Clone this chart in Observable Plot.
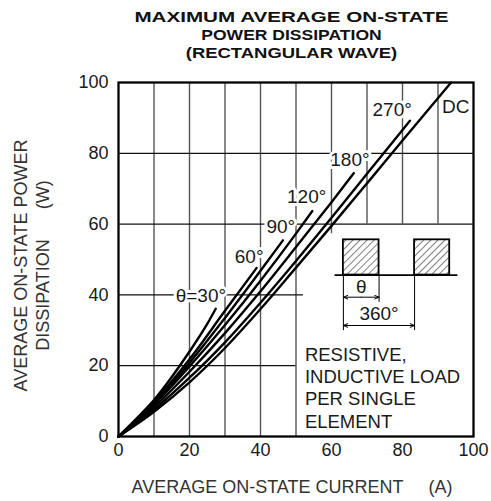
<!DOCTYPE html>
<html><head><meta charset="utf-8">
<script src="https://cdn.jsdelivr.net/npm/d3@7"></script>
<script src="https://cdn.jsdelivr.net/npm/@observablehq/plot@0.6"></script>
<style>
html,body{margin:0;padding:0;background:#fff;overflow:hidden;}
#title{height:62px;box-sizing:border-box;padding-top:8px;font:bold 15.5px "Liberation Sans",Arial,sans-serif;line-height:18px;color:#111;}
#title div{width:491px;text-align:center;position:relative;left:46px;white-space:nowrap;}
#t1{transform:scaleX(1.33);} #t2{transform:scaleX(1.13);} #t3{transform:scaleX(1.19);}
svg{display:block;}
</style>
</head><body>
<div id="title"><div id="t1">MAXIMUM AVERAGE ON-STATE</div><div id="t2">POWER DISSIPATION</div><div id="t3">(RECTANGULAR WAVE)</div></div>
<div id="chart"></div>
<script>
// ---- data ----
const seriesNames = ["30°", "60°", "90°", "120°", "180°", "270°", "DC"];
const current30 = [0, 5, 10, 15, 20, 25, 27.4];
const power30   = [0, 5, 10.3, 16.8, 24, 31.8, 36.1];
const current60 = [0, 10, 20, 30, 38.9];
const power60   = [0, 9.8, 21.8, 35.5, 47.6];
const current90 = [0, 10, 20, 30, 40, 46.3];
const power90   = [0, 9.4, 20.8, 33.5, 46.8, 55.4];
const current120 = [0, 10, 20, 30, 40, 50, 54.6];
const power120   = [0, 9, 19.8, 31.5, 44, 57.3, 63.7];
const current180 = [0, 10, 20, 30, 40, 50, 60, 66.3];
const power180   = [0, 8.3, 18.3, 29.2, 41, 53.5, 66.2, 74.4];
const current270 = [0, 10, 20, 30, 40, 50, 60, 70, 80, 82.1];
const power270   = [0, 7.6, 16.6, 26.6, 37.8, 49.6, 61.8, 74.2, 86.6, 89.2];
const currentDC = [0, 10, 20, 30, 40, 50, 60, 70, 80, 93.7];
const powerDC   = [0, 7, 15.3, 25, 36, 47.7, 59.5, 71.5, 83.6, 100];

const tickValues = [0, 20, 40, 60, 80, 100];

const curveLabels = ["θ=30°", "60°", "90°", "120°", "180°", "270°", "DC"];
const curveLabelX = [23.2, 36.8, 45.7, 53, 65.2, 77.1, 95];
const curveLabelY = [39.8, 50.6, 59.1, 67.6, 78.2, 92.3, 93.2];

const gridVx = [10, 20, 30, 40, 50, 60, 70, 80, 90];
const gridVfrom = [0, 0, 0, 0, 0, 57.3, 60, 60, 60];
const gridHy = [20, 40, 60, 80];
const gridHto = [50, 52.1, 100, 100];

// inset waveform (data units)
const pulseStart = [63.35, 83.4];
const pulseEnd = [73.4, 93.3];
const pulseLow = 45.6, pulseHigh = 55.56;
const baseFrom = 61, baseTo = 95.6;
const extX = [63.35, 73.4, 83.4];
const extBottom = [29.9, 37.9, 29.9];
const thetaY = 39.35, periodY = 31.36;
const insetLabels = ["θ", "360°"];
const insetLabelX = [68.4, 73.4];
const insetLabelY = [42.2, 34.5];

const noteText = "RESISTIVE,\nINDUCTIVE LOAD\nPER SINGLE\nELEMENT";
const noteX = 52.5, noteY = 13.9;

// ---- build tables ----
const allCurrents = [current30, current60, current90, current120, current180, current270, currentDC];
const allPowers = [power30, power60, power90, power120, power180, power270, powerDC];
const rows = [];
seriesNames.forEach((s, k) => allCurrents[k].forEach((c, i) => rows.push({series: s, current: c, power: allPowers[k][i]})));
const labelRows = curveLabels.map((t, i) => ({t, x: curveLabelX[i], y: curveLabelY[i]}));
const gridV = gridVx.map((x, i) => ({x, y1: gridVfrom[i], y2: 100}));
const gridH = gridHy.map((y, i) => ({y, x1: 0, x2: gridHto[i]}));
const pulses = pulseStart.map((x1, i) => ({x1, x2: pulseEnd[i], y1: pulseLow, y2: pulseHigh}));
const exts = extX.map((x, i) => ({x, y1: pulseLow, y2: extBottom[i]}));
const midT = (extX[0] + extX[1]) / 2, midP = (extX[0] + extX[2]) / 2;
const arrows = [
  {x1: midT, x2: extX[0], y: thetaY}, {x1: midT, x2: extX[1], y: thetaY},
  {x1: midP, x2: extX[0], y: periodY}, {x1: midP, x2: extX[2], y: periodY}
];
const insetText = insetLabels.map((t, i) => ({t, x: insetLabelX[i], y: insetLabelY[i]}));

const font = "Liberation Sans, Arial, Helvetica, sans-serif";
const NB = "\u00a0";

const plot = Plot.plot({
  width: 491, height: 439,
  marginLeft: 118, marginRight: 18, marginTop: 20, marginBottom: 65,
  x: {domain: [0, 100]},
  y: {domain: [0, 100]},
  style: {fontFamily: font, fontSize: "18px", color: "#1a1a1a", background: "white", overflow: "visible"},
  marks: [
    Plot.ruleX(gridV, {x: "x", y1: "y1", y2: "y2", stroke: "#555", strokeWidth: 1.4}),
    Plot.ruleY(gridH, {y: "y", x1: "x1", x2: "x2", stroke: "#111", strokeWidth: 1.3}),
    Plot.axisX({ticks: tickValues, tickSize: 0, tickPadding: 7, label: null, fontSize: 18, fill: "#1a1a1a"}),
    Plot.axisY({ticks: tickValues, tickSize: 0, tickPadding: 10, label: null, fontSize: 18, fill: "#1a1a1a"}),
    Plot.text(labelRows, {x: "x", y: "y", text: "t", fontSize: 19, fill: "#1a1a1a", stroke: "white", strokeWidth: 6}),
    Plot.line(rows, {x: "current", y: "power", z: "series", curve: "monotone-x", stroke: "black", strokeWidth: 2.4}),
    // inset waveform
    Plot.rect(pulses, {x1: "x1", x2: "x2", y1: "y1", y2: "y2", fill: "none", stroke: "black", strokeWidth: 1.8}),
    Plot.ruleY([pulseLow], {x1: baseFrom, x2: baseTo, stroke: "black", strokeWidth: 1.6}),
    Plot.ruleX(exts, {x: "x", y1: "y1", y2: "y2", stroke: "black", strokeWidth: 1}),
    Plot.arrow(arrows, {x1: "x1", x2: "x2", y1: "y", y2: "y", stroke: "black", strokeWidth: 1, headLength: 7, headAngle: 45}),
    Plot.text(insetText, {x: "x", y: "y", text: "t", fontSize: 19, fill: "#1a1a1a"}),
    Plot.text([noteText], {x: noteX, y: noteY, text: d => d, textAnchor: "start", lineAnchor: "middle", lineHeight: 1.2, fontSize: 18.5, fill: "#1a1a1a"}),
    // axis titles
    Plot.text(["AVERAGE ON-STATE CURRENT" + NB.repeat(5) + "(A)"], {frameAnchor: "bottom", text: d => d, textAnchor: "middle", lineAnchor: "middle", dy: 51, dx: -4, fontSize: 18, fill: "#333"}),
    Plot.text(["AVERAGE ON-STATE POWER\nDISSIPATION" + NB.repeat(6) + "(W)"], {frameAnchor: "left", text: d => d, textAnchor: "middle", lineAnchor: "middle", rotate: -90, dx: -88, dy: 6, lineHeight: 1.22, fontSize: 18, fill: "#333"}),
    Plot.frame({stroke: "black", strokeWidth: 2.3})
  ]
});

const svg = d3.select(plot);
svg.insert("defs", ":first-child").html('<pattern id="hatch" patternUnits="userSpaceOnUse" width="5" height="5" patternTransform="rotate(45)"><line x1="0" y1="-1" x2="0" y2="6" stroke="black" stroke-width="1"/></pattern>');
svg.selectAll('g[aria-label="rect"] rect').attr("fill", "url(#hatch)");
document.getElementById("chart").appendChild(plot);
</script>
</body></html>
